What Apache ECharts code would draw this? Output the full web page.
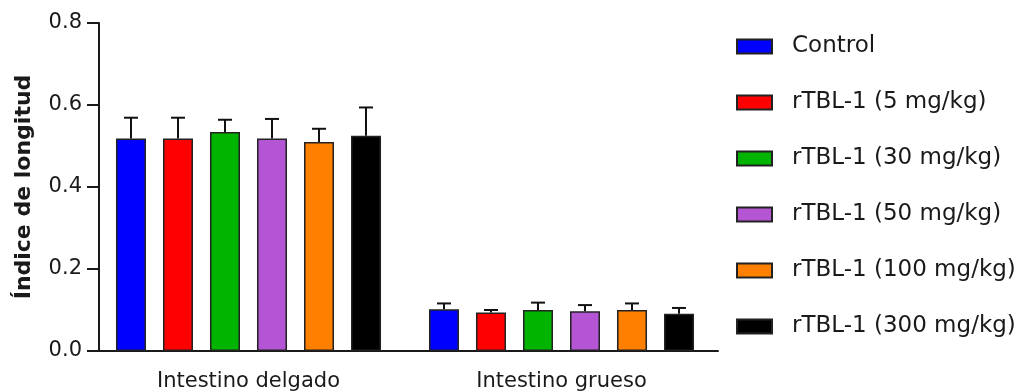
<!DOCTYPE html>
<html>
<head>
<meta charset="utf-8">
<script src="https://cdn.jsdelivr.net/npm/echarts@6/dist/echarts.min.js"></script>
<style>
  html, body { margin: 0; padding: 0; background: #fff; }
  #chart { width: 1028px; height: 392px; }
</style>
</head>
<body>
<div id="chart"></div>
<script>
// Intestinal length index per treatment group (mean + SEM, upper whisker only)
const categories = ['Intestino delgado', 'Intestino grueso'];
const groups = ['Control', 'rTBL-1 (5 mg/kg)', 'rTBL-1 (30 mg/kg)', 'rTBL-1 (50 mg/kg)', 'rTBL-1 (100 mg/kg)', 'rTBL-1 (300 mg/kg)'];
const colors = ['#0000ff', '#ff0000', '#00b400', '#b455d4', '#ff8000', '#000000'];

const delgadoMean = [0.518, 0.518, 0.534, 0.518, 0.510, 0.525];
const delgadoErr  = [0.051, 0.051, 0.030, 0.048, 0.032, 0.069];
const gruesoMean  = [0.102, 0.094, 0.100, 0.097, 0.100, 0.091];
const gruesoErr   = [0.014, 0.006, 0.018, 0.015, 0.016, 0.014];

const yTicks = [0, 0.2, 0.4, 0.6, 0.8];

const FONT = 'DejaVu Sans';
const INK = '#1a1a1a';
const BAR_W = 30;
const BAR_GAP = 17;
const CAP = 14;

const barSeries = groups.map((name, i) => ({
  name: name,
  type: 'bar',
  barWidth: BAR_W,
  barGap: (BAR_GAP / BAR_W * 100).toFixed(1) + '%',
  itemStyle: { color: colors[i], borderColor: '#222', borderWidth: 1.5 },
  data: [delgadoMean[i], gruesoMean[i]],
  z: 2
}));

// Upper error whiskers placed on top of each bar of the group
const errData = [];
groups.forEach((g, i) => {
  errData.push([0, delgadoMean[i], delgadoMean[i] + delgadoErr[i], i]);
  errData.push([1, gruesoMean[i], gruesoMean[i] + gruesoErr[i], i]);
});

const errSeries = {
  type: 'custom',
  name: 'error',
  z: 3,
  silent: true,
  data: errData,
  renderItem: function (params, api) {
    const cat = api.value(0);
    const idx = api.value(3);
    const off = (idx - (groups.length - 1) / 2) * (BAR_W + BAR_GAP);
    const base = api.coord([cat, api.value(1)]);
    const top = api.coord([cat, api.value(2)]);
    const x = base[0] + off;
    const style = { stroke: '#111', lineWidth: 2 };
    return {
      type: 'group',
      children: [
        { type: 'line', shape: { x1: x, y1: base[1], x2: x, y2: top[1] }, style: style },
        { type: 'line', shape: { x1: x - CAP / 2, y1: top[1], x2: x + CAP / 2, y2: top[1] }, style: style }
      ]
    };
  }
};

const chart = echarts.init(document.getElementById('chart'), null, { renderer: 'canvas' });
chart.setOption({
  animation: false,
  backgroundColor: '#fff',
  textStyle: { fontFamily: FONT, color: INK },
  grid: { left: 92, right: 310, top: 23, bottom: 40, containLabel: false },
  legend: {
    orient: 'vertical',
    left: 736,
    top: 35,
    padding: 0,
    itemWidth: 35,
    itemHeight: 14,
    itemGap: 33,
    icon: 'rect',
    data: groups,
    textStyle: { fontFamily: FONT, fontSize: 23, lineHeight: 23, color: INK, padding: [0, 0, 0, 15] }
  },
  xAxis: {
    type: 'category',
    data: categories,
    axisLine: { lineStyle: { color: INK, width: 2 } },
    axisTick: { alignWithLabel: true, length: 13, lineStyle: { color: INK, width: 2 } },
    axisLabel: { fontFamily: FONT, fontSize: 21, color: INK, margin: 20 },
    splitLine: { show: false }
  },
  yAxis: {
    type: 'value',
    min: yTicks[0],
    max: yTicks[yTicks.length - 1],
    interval: 0.2,
    offset: -7,
    name: 'Índice de longitud',
    nameLocation: 'middle',
    nameRotate: 90,
    nameGap: 64,
    nameTextStyle: { fontFamily: FONT, fontSize: 22, fontWeight: 'bold', color: INK },
    axisLine: { show: true, lineStyle: { color: INK, width: 2 } },
    axisTick: { show: true, length: 12, lineStyle: { color: INK, width: 2 } },
    axisLabel: { fontFamily: FONT, fontSize: 21, color: INK, margin: 17, formatter: v => v.toFixed(1) },
    splitLine: { show: false }
  },
  series: barSeries.concat([errSeries])
});
</script>
</body>
</html>
